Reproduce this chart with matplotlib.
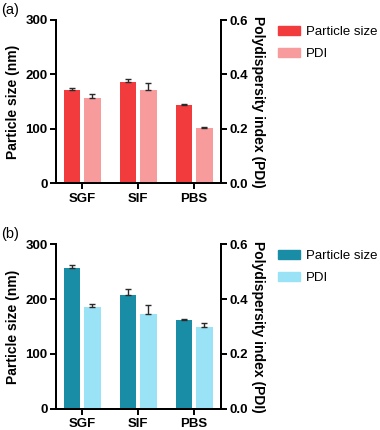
import matplotlib
matplotlib.use("Agg")
import matplotlib.pyplot as plt
import numpy as np
from matplotlib.patches import Patch

plt.rcParams['font.family'] = ['Liberation Sans', 'DejaVu Sans']

categories = ["SGF", "SIF", "PBS"]

# Panel (a)
size_a = [172, 186, 143]
size_a_err = [3.5, 4.5, 2]
pdi_a = [0.314, 0.343, 0.204]
pdi_a_err = [0.015, 0.026, 0.002]

# Panel (b)
size_b = [256, 208, 162]
size_b_err = [6, 10, 1.5]
pdi_b = [0.372, 0.347, 0.299]
pdi_b_err = [0.009, 0.030, 0.012]

left_ticks = [0, 100, 200, 300]
right_ticks = [0.0, 0.2, 0.4, 0.6]
right_ticklabels = ["0.0", "0.2", "0.4", "0.6"]

colors_a = ("#f23b3d", "#f89b9c")
colors_b = ("#1a8da6", "#9ae2f6")

W, H = 380, 430
fig = plt.figure(figsize=(W / 100, H / 100), dpi=100)

LW = 1.4
TICK_FS = 9.5
LABEL_FS = 10
LEG_FS = 9.5


def panel(top_px, bottom_px, sizes, serr, pdis, perr, colors, tag, leg_y_px):
    ax = fig.add_axes([56 / W, 1 - bottom_px / H, (221 - 56) / W, (bottom_px - top_px) / H])
    ax2 = ax.twinx()
    x = np.arange(len(categories))
    bw = 0.29
    off = 0.185
    ax.bar(x - off, sizes, width=bw, color=colors[0], zorder=2)
    ax.errorbar(x - off, sizes, yerr=[np.zeros(len(serr)), serr], fmt='none',
                ecolor='#2a2a2a', elinewidth=1.0, capsize=2.5, capthick=1.0, zorder=3)
    ax2.bar(x + off, pdis, width=bw, color=colors[1], zorder=2)
    ax2.errorbar(x + off, pdis, yerr=[np.zeros(len(perr)), perr], fmt='none',
                 ecolor='#2a2a2a', elinewidth=1.0, capsize=2.5, capthick=1.0, zorder=3)
    ax.set_xlim(-0.464, 2.48)
    ax.set_ylim(0, 300)
    ax2.set_ylim(0, 0.6)
    ax.set_yticks(left_ticks)
    ax2.set_yticks(right_ticks)
    ax2.set_yticklabels(right_ticklabels)
    ax.set_xticks(x)
    ax.set_xticklabels(categories)
    for a in (ax, ax2):
        a.spines['top'].set_visible(False)
        for s in ('left', 'right', 'bottom'):
            a.spines[s].set_linewidth(LW)
        a.tick_params(width=LW, length=4, labelsize=TICK_FS, pad=2)
        for lab in a.get_yticklabels() + a.get_xticklabels():
            lab.set_fontweight('bold')
    ax.tick_params(axis='x', labelsize=TICK_FS, pad=3)
    for lab in ax.get_xticklabels():
        lab.set_fontweight('bold')
    ax.set_ylabel("Particle size (nm)", fontsize=LABEL_FS, fontweight='bold', labelpad=4)
    ax2.set_ylabel("Polydispersity index (PDI)", fontsize=LABEL_FS, fontweight='bold',
                   rotation=-90, labelpad=12)
    fig.text(1 / W, 1 - (top_px - 10) / H, tag, fontsize=10.5, va='center', ha='left')
    handles = [Patch(color=colors[0], label="Particle size"), Patch(color=colors[1], label="PDI")]
    fig.legend(handles=handles, loc='upper left', bbox_to_anchor=(278 / W, 1 - leg_y_px / H),
               frameon=False, fontsize=LEG_FS, handlelength=1.7, handleheight=0.65,
               handletextpad=0.45, labelspacing=0.75, borderpad=0, borderaxespad=0)


panel(20, 183, size_a, size_a_err, pdi_a, pdi_a_err, colors_a, "(a)", 26)
panel(244.3, 408.7, size_b, size_b_err, pdi_b, pdi_b_err, colors_b, "(b)", 250)

fig.savefig("out.png", dpi=100)
